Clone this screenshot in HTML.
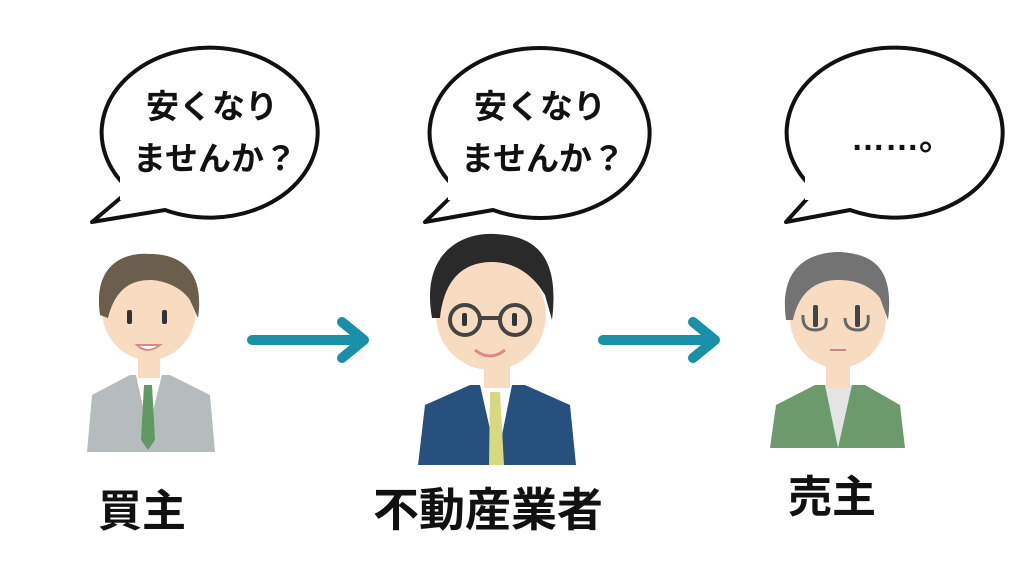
<!DOCTYPE html>
<html><head><meta charset="utf-8"><style>
html,body{margin:0;padding:0;background:#fff;}
svg{display:block}
text{font-family:"Liberation Sans","Noto Sans CJK JP",sans-serif;font-weight:bold;fill:#111}
</style></head><body>
<svg width="1024" height="576" viewBox="0 0 1024 576">
<rect width="1024" height="576" fill="#fff"/>
<!-- bubbles -->
<g fill="#fff" stroke="#111" stroke-width="4" stroke-linejoin="round">
<path d="M130,190 A108,85 0 1 1 165,210 L92,222 Z"/>
<path d="M458,190 A110,85 0 1 1 493,210 L425,222 Z"/>
<path d="M815,190 A108,85 0 1 1 850,210 L786,222 Z"/>
</g>
<rect x="120" y="170" width="60" height="30" fill="#fff"/>
<rect x="448" y="170" width="60" height="30" fill="#fff"/>
<rect x="805" y="170" width="60" height="30" fill="#fff"/>
<text x="212" y="118" font-size="33" text-anchor="middle">安くなり</text>
<text x="215" y="170" font-size="33" text-anchor="middle">ませんか？</text>
<text x="540" y="118" font-size="33" text-anchor="middle">安くなり</text>
<text x="543" y="170" font-size="33" text-anchor="middle">ませんか？</text>
<text x="902" y="150" font-size="34" text-anchor="middle">……。</text>

<!-- arrows -->
<g stroke="#1a8fa8" stroke-width="10" fill="none" stroke-linecap="round" stroke-linejoin="round">
<line x1="252" y1="340" x2="362" y2="340"/>
<polyline points="342,322 364,340 342,358"/>
<line x1="603" y1="340" x2="713" y2="340"/>
<polyline points="693,322 715,340 693,358"/>
</g>

<!-- person 1 -->
<g>
<path d="M87,452 L92,395 L130,375 L170,375 L210,395 L215,452 Z" fill="#b6bcbe"/>
<path d="M136,375 L148,430 L162,375 Z" fill="#fff"/>
<path d="M144,385 L152,385 L155,440 L148,450 L141,440 Z" fill="#5f9a63"/>
<rect x="138" y="352" width="22" height="26" fill="#f8dcc2"/>
<ellipse cx="149" cy="310" rx="47" ry="50" fill="#f8dcc2"/>
<path d="M100,315 C92,260 130,252 150,254 C180,254 205,270 198,318 L190,300 C180,285 160,280 150,280 C130,280 115,290 108,318 Z" fill="#6b5e4c"/>
<rect x="127" y="310" width="5" height="14" rx="2" fill="#333"/>
<rect x="162" y="310" width="5" height="14" rx="2" fill="#333"/>
<path d="M137,345 Q147,355 160,345 Z" fill="#fff" stroke="#d88" stroke-width="2"/>
</g>

<!-- person 2 -->
<g>
<path d="M418,465 L425,405 L470,385 L525,385 L570,405 L576,465 Z" fill="#26517f"/>
<path d="M480,385 L497,460 L512,385 Z" fill="#fff"/>
<path d="M490,392 L500,392 L504,465 L489,465 Z" fill="#d8d880"/>
<rect x="484" y="360" width="26" height="28" fill="#f8dcc2"/>
<ellipse cx="491" cy="315" rx="55" ry="55" fill="#f8dcc2"/>
<path d="M432,318 C420,250 465,232 495,234 C535,236 560,255 552,320 L545,295 C530,270 510,262 492,262 C470,262 445,272 440,318 Z" fill="#2a2a2a"/>
<g fill="none" stroke="#444" stroke-width="4"><circle cx="465" cy="320" r="15"/><circle cx="515" cy="320" r="15"/><line x1="480" y1="318" x2="500" y2="318"/></g>
<rect x="462" y="313" width="5" height="13" rx="2" fill="#333"/>
<rect x="512" y="313" width="5" height="13" rx="2" fill="#333"/>
<path d="M475,350 Q490,362 505,350" fill="none" stroke="#d88" stroke-width="3"/>
</g>

<!-- person 3 -->
<g>
<path d="M770,448 L776,405 L815,385 L865,385 L900,405 L905,448 Z" fill="#6d9a6d"/>
<path d="M825,385 L838,448 L852,385 Z" fill="#e4e4e4"/>
<rect x="826" y="360" width="24" height="28" fill="#f8dcc2"/>
<ellipse cx="838" cy="318" rx="48" ry="50" fill="#f8dcc2"/>
<path d="M786,320 C778,262 815,252 840,252 C870,254 895,265 888,320 L880,298 C870,285 855,280 838,280 C820,280 800,288 793,320 Z" fill="#737373"/>
<g fill="none" stroke="#666" stroke-width="3"><path d="M803,315 Q802,330 815,330 Q828,330 826,318"/><path d="M845,318 Q845,330 858,330 Q870,330 868,315"/></g>
<rect x="813" y="305" width="5" height="22" rx="2" fill="#444"/>
<rect x="855" y="305" width="5" height="22" rx="2" fill="#444"/>
<line x1="830" y1="350" x2="846" y2="350" stroke="#c88" stroke-width="2"/>
</g>

<!-- labels -->
<text x="142" y="526" font-size="44" text-anchor="middle">買主</text>
<text x="488" y="526" font-size="46" text-anchor="middle">不動産業者</text>
<text x="832" y="512" font-size="44" text-anchor="middle">売主</text>
</svg>
</body></html>
